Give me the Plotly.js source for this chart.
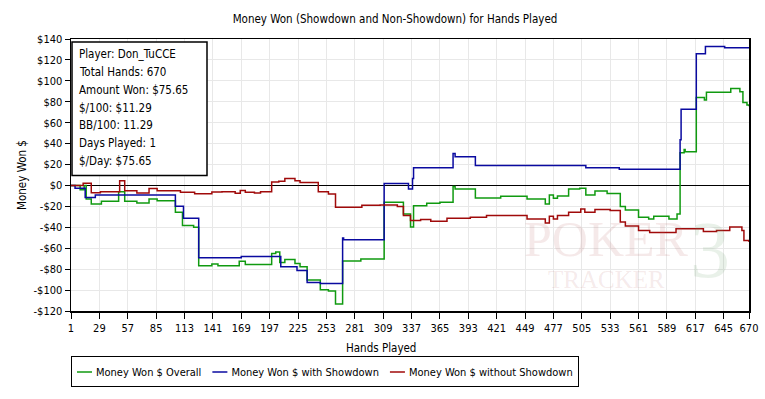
<!DOCTYPE html>
<html>
<head>
<meta charset="utf-8">
<script src="https://cdn.plot.ly/plotly-3.0.1.min.js"></script>
<style>html,body{margin:0;padding:0;background:#fff;}#chart{width:765px;height:399px;}</style>
</head>
<body>
<div id="chart"></div>
<script>
// ---- data ----
const overallHands = [1,10,14,16,21,31,48,54,66,78,86,104,111,122,127,140,146,167,173,199,203,207,212,222,227,234,247,255,262,269,287,310,329,336,339,352,365,378,380,400,425,451,469,473,477,481,492,503,509,518,530,543,548,561,571,576,591,599,602,606,607,618,626,628,652,661,664,668,670];
const overallWon   = [0,-4.2,0,-13,-17.7,-15.2,-6,-15.2,-16.8,-13,-14.6,-25.6,-38.3,-40,-76.7,-75,-76.7,-72.5,-75.5,-65,-63.5,-73.6,-70.7,-74.5,-77.7,-90.3,-99.8,-101,-113.4,-72.3,-70.4,-16,-27.2,-39.8,-19.3,-17,-16,-1,-3.5,-12,-10.4,-13,-17.7,-9.2,-12.3,-10,-3.5,-2.6,-9.2,-5.4,-7.6,-20,-23.5,-30.5,-32,-29.4,-32,-27.2,31.2,34.4,32.2,84,81.7,89,92.8,89.6,79.2,77,75.65];

const showdownHands = [1,5,15,25,104,112,127,169,208,224,234,247,269,270,310,334,338,339,378,380,400,509,542,602,603,618,627,646,670];
const showdownWon   = [0,-2.6,-11.4,-9.2,-19.9,-31.3,-69,-68,-77.7,-81.4,-92.8,-93.8,-50.2,-52,1.9,-3.5,6.6,17,30.6,27.5,19.2,17,15.4,43.8,72.9,126,132.9,131.6,131.6];

const nonShowdownHands = [1,13,21,30,49,54,66,78,86,109,123,140,150,163,168,173,182,188,199,206,212,222,227,245,255,262,288,306,323,329,336,346,356,372,395,411,451,469,473,477,481,492,504,508,518,533,543,548,561,572,598,625,638,651,663,665,670];
const nonShowdownWon   = [0,2,-7,-6,4.4,-5,-7.3,-3,-5,-6.6,-8,-6.2,-6,-7.4,-4.7,-6.6,-7.3,-6,3.4,4,6.6,4.5,2.8,-6,-8.2,-20.8,-19,-18.6,-20,-28.8,-33.5,-32.6,-34.3,-31.3,-30.3,-28.8,-32,-36,-29.4,-32,-28.8,-25.6,-22.4,-25.6,-23,-24,-35,-38.8,-43,-45,-41.4,-44,-43,-39.8,-43,-52.5,-54];

const seriesNames = ["Money Won $ Overall","Money Won $ with Showdown","Money Won $ without Showdown"];
const handTicks = [1,29,57,85,113,141,169,197,225,253,281,309,337,365,393,421,449,477,505,533,561,589,617,645,670];
const moneyTicks = [140,120,100,80,60,40,20,0,-20,-40,-60,-80,-100,-120];
const moneyLabels = ["$140","$120","$100","$80","$60","$40","$20","$0","-$20","-$40","-$60","-$80","-$100","-$120"];
const infoLines = ["Player: Don_TuCCE","Total Hands: 670","Amount Won: $75.65","$/100: $11.29","BB/100: 11.29","Days Played: 1","$/Day: $75.65"];
const chartTitle = "Money Won (Showdown and Non-Showdown) for Hands Played";

// ---- drawing ----
const FONT = "Tahoma, 'DejaVu Sans Condensed', 'Liberation Sans', sans-serif";
const SERIF = "'Liberation Serif', 'DejaVu Serif', serif";
const colors = ["#109a10","#0a0aa0","#a00a0a"];
const traces = [
  {x: overallHands, y: overallWon, name: seriesNames[0]},
  {x: showdownHands, y: showdownWon, name: seriesNames[1]},
  {x: nonShowdownHands, y: nonShowdownWon, name: seriesNames[2]}
].map((t,i)=>Object.assign(t,{type:"scatter",mode:"lines",line:{color:colors[i],width:1.5,shape:"hv"},hoverinfo:"skip"}));

const W=765,H=399,L=71,R=16,T=39,B=85;
const ph = H-T-B, pw = W-L-R;
const py = y => (H-B-y)/ph;   // pixel row -> paper y
const px = x => (x-L)/pw;     // pixel col -> paper x

const annotations = infoLines.map((s,i)=>({
  text:s, xref:"paper", yref:"paper", x:px(77), y:py(54+i*18.1), xanchor:"left", yanchor:"middle",
  showarrow:false, font:{family:FONT,size:11.5,color:"#000"}
}));
annotations.push({text:"Hands Played", xref:"paper", yref:"paper", x:px(381), y:py(351), xanchor:"center", yanchor:"middle", showarrow:false, font:{family:FONT,size:11.5,color:"#000"}});
// faint watermark
annotations.push({text:"POKER", xref:"paper", yref:"paper", x:px(606), y:py(241), xanchor:"center", yanchor:"middle", showarrow:false, font:{family:SERIF,size:50,color:"rgba(190,110,110,0.15)"}});
annotations.push({text:"TRACKER", xref:"paper", yref:"paper", x:px(606), y:py(282), xanchor:"center", yanchor:"middle", showarrow:false, font:{family:SERIF,size:25,color:"rgba(190,110,110,0.15)"}});
annotations.push({text:"3", xref:"paper", yref:"paper", x:px(710), y:py(252), xanchor:"center", yanchor:"middle", showarrow:false, font:{family:SERIF,size:80,color:"rgba(110,160,110,0.15)"}});

const layout = {
  width:W, height:H,
  margin:{l:L,r:R,t:T,b:B,pad:0},
  paper_bgcolor:"#fff", plot_bgcolor:"#fff",
  font:{family:FONT,size:11,color:"#000"},
  title:{text:chartTitle, xref:"container", yref:"container", x:395/W, y:1-19/H, xanchor:"center", yanchor:"middle", font:{family:FONT,size:11.5,color:"#000"}},
  xaxis:{range:[1,670], tickmode:"array", tickvals:handTicks, ticktext:handTicks.map(String),
    showgrid:true, gridcolor:"#e8e8e8", gridwidth:1, zeroline:false,
    showline:true, linecolor:"#000", linewidth:1.5, mirror:true,
    ticks:"outside", ticklen:6, tickcolor:"#000", tickwidth:1,
    tickfont:{family:FONT,size:11,color:"#000"}, fixedrange:true},
  yaxis:{range:[-120,140], tickmode:"array", tickvals:moneyTicks, ticktext:moneyLabels,
    showgrid:true, gridcolor:"#e8e8e8", gridwidth:1,
    zeroline:true, zerolinecolor:"#000", zerolinewidth:1.2,
    showline:true, linecolor:"#000", linewidth:1.5, mirror:true,
    ticks:"outside", ticklen:5, tickcolor:"#000", tickwidth:1,
    tickfont:{family:FONT,size:11,color:"#000"},
    title:{text:"Money Won $", standoff:4, font:{family:FONT,size:11.5,color:"#000"}}, automargin:false, fixedrange:true},
  showlegend:true,
  legend:{orientation:"h", x:0, xanchor:"left", y:py(360), yanchor:"top", bordercolor:"#000", borderwidth:1,
    bgcolor:"#fff", font:{family:FONT,size:11,color:"#000"}, itemwidth:30, tracegroupgap:0},
  shapes:[{type:"rect", xref:"paper", yref:"paper", x0:px(72), x1:px(207), y0:py(177), y1:py(42),
    line:{color:"#000",width:1.5}, fillcolor:"#fff", layer:"above"}],
  annotations:annotations
};

const gd = document.getElementById("chart");
Plotly.newPlot(gd, traces, layout, {staticPlot:true, displayModeBar:false}).then(()=>{
  // compact the legend entries: short 15px line sample, text close to it
  try {
    const items = gd.querySelectorAll(".legend .traces");
    let cursor = 6;
    items.forEach(g=>{
      const path = g.querySelector(".legendlines path");
      if(path) path.setAttribute("d","M0,0h15");
      const txt = g.querySelector("text.legendtext");
      if(!txt) return;
      txt.setAttribute("x", 19);
      txt.querySelectorAll("tspan").forEach(t=>{ if(t.hasAttribute("x")) t.setAttribute("x",19); });
      const tw = txt.getBBox().width;
      const tr = g.getAttribute("transform") || "";
      const m = tr.match(/translate\(\s*([-\d.]+)[ ,]+([-\d.]+)\s*\)/);
      const ty = m ? m[2] : 0;
      g.setAttribute("transform", "translate(" + cursor + "," + ty + ")");
      cursor += 19 + tw + 11;
    });
    const width = cursor - 11 + 6;
    const bg = gd.querySelector(".legend rect.bg");
    if(bg){ const bw = 1; bg.setAttribute("width", width - bw); }
  } catch(e) { console.log(e); }
});
</script>
</body>
</html>
